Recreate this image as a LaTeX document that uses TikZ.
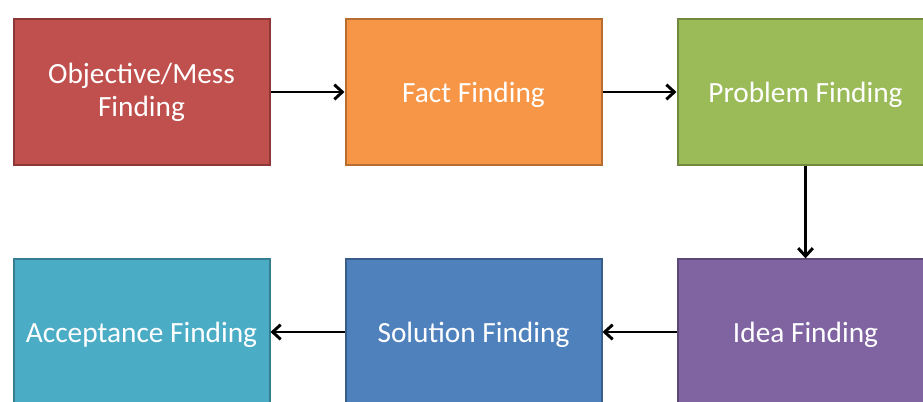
\documentclass[tikz,border=0pt]{standalone}
\usepackage{fontspec}
\setmainfont{Carlito}
\usetikzlibrary{arrows.meta}

\definecolor{objred}{HTML}{C0504D}
\definecolor{objredline}{HTML}{8C3836}
\definecolor{factorange}{HTML}{F79646}
\definecolor{factorangeline}{HTML}{B66D31}
\definecolor{probgreen}{HTML}{9BBB59}
\definecolor{probgreenline}{HTML}{71893F}
\definecolor{ideapurple}{HTML}{8064A2}
\definecolor{ideapurpleline}{HTML}{5C4776}
\definecolor{solblue}{HTML}{4F81BD}
\definecolor{solblueline}{HTML}{385D8A}
\definecolor{accaqua}{HTML}{4BACC6}
\definecolor{accaqualine}{HTML}{357D91}

\tikzset{
  stagebox/.style={rectangle, minimum width=192pt, minimum height=109pt,
    line width=1.5pt, text=white, align=center, inner sep=0pt,
    font=\fontsize{22}{25}\selectfont},
  onelinebox/.style={stagebox, text height=20pt},
  flowarrow/.style={-{Straight Barb[length=6pt,width=11pt]}, line width=2.2pt, black}
}

\begin{document}
\begin{tikzpicture}[x=0.75pt, y=-0.75pt]
% page frame
\useasboundingbox (0,0) rectangle (923,401);
\clip (0,0) rectangle (923,401);

% Draw the six stages
\node[stagebox, fill=objred, draw=objredline] (objective) at (141.5,92) {Objective/Mess\\Finding};
\node[onelinebox, fill=factorange, draw=factorangeline] (fact) at (473.5,92) {Fact Finding};
\node[onelinebox, fill=probgreen, draw=probgreenline] (problem) at (805.5,92) {Problem Finding};
\node[onelinebox, fill=ideapurple, draw=ideapurpleline] (idea) at (805.5,332) {Idea Finding};
\node[onelinebox, fill=solblue, draw=solblueline] (solution) at (473.5,332) {Solution Finding};
\node[onelinebox, fill=accaqua, draw=accaqualine] (acceptance) at (141.5,332) {Acceptance Finding};

% Draw the arrows between the stages
\draw[flowarrow] (objective) -- (fact);
\draw[flowarrow] (fact) -- (problem);
\draw[flowarrow] (problem) -- (idea);
\draw[flowarrow] (idea) -- (solution);
\draw[flowarrow] (solution) -- (acceptance);
\end{tikzpicture}
\end{document}
